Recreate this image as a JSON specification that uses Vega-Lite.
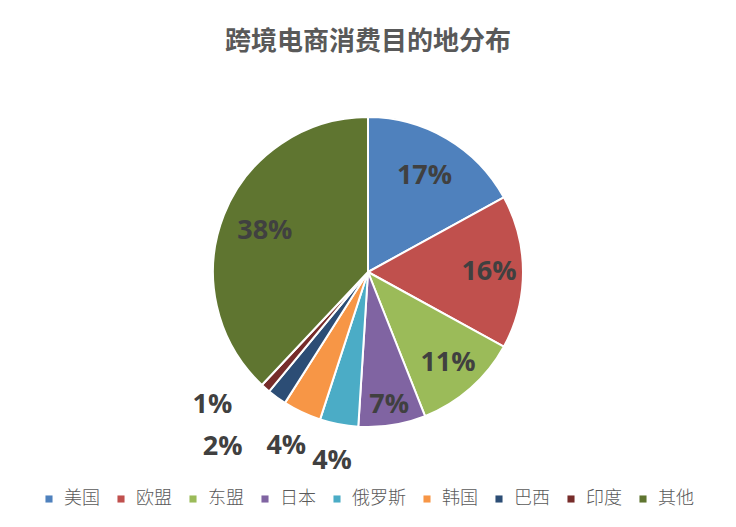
{
  "$schema": "https://vega.github.io/schema/vega-lite/v6.json",
  "autosize": "none",
  "width": 736,
  "height": 424,
  "padding": {"top": 60, "left": 0, "right": 0, "bottom": 43},
  "background": "white",
  "title": {
    "text": "跨境电商消费目的地分布",
    "fontSize": 26,
    "fontWeight": "bold",
    "font": "Noto Sans CJK SC",
    "color": "#595959",
    "anchor": "middle",
    "frame": "group",
    "baseline": "bottom",
    "offset": 4,
    "dy": 31
  },
  "config": {"view": {"stroke": null}},
  "data": {
    "values": [
      {"name": "美国", "value": 17, "order": 1, "label": "17%"},
      {"name": "欧盟", "value": 16, "order": 2, "label": "16%"},
      {"name": "东盟", "value": 11, "order": 3, "label": "11%"},
      {"name": "日本", "value": 7, "order": 4, "label": "7%"},
      {"name": "俄罗斯", "value": 4, "order": 5, "label": "4%"},
      {"name": "韩国", "value": 4, "order": 6, "label": "4%"},
      {"name": "巴西", "value": 2, "order": 7, "label": "2%"},
      {"name": "印度", "value": 1, "order": 8, "label": "1%"},
      {"name": "其他", "value": 38, "order": 9, "label": "38%"}
    ]
  },
  "encoding": {
    "theta": {"field": "value", "type": "quantitative", "stack": true},
    "order": {"field": "order", "type": "quantitative"}
  },
  "layer": [
    {
      "mark": {"type": "arc", "outerRadius": 155, "stroke": "white", "strokeWidth": 2},
      "encoding": {
        "color": {
          "field": "name",
          "type": "nominal",
          "sort": ["美国", "欧盟", "东盟", "日本", "俄罗斯", "韩国", "巴西", "印度", "其他"],
          "scale": {
            "domain": ["美国", "欧盟", "东盟", "日本", "俄罗斯", "韩国", "巴西", "印度", "其他"],
            "range": ["#4F81BD", "#C0504D", "#9BBB59", "#8064A2", "#4BACC6", "#F79646", "#2C4D75", "#772C2A", "#5F7530"]
          },
          "legend": {
            "title": null,
            "orient": "none",
            "legendX": 40,
            "legendY": 430,
            "direction": "horizontal",
            "columns": 9,
            "symbolType": "square",
            "symbolSize": 50,
            "symbolStrokeWidth": 0,
            "labelFontSize": 18,
            "labelFont": "Noto Sans CJK SC",
            "labelFontWeight": 300,
            "labelColor": "#595959",
            "labelOffset": 6,
            "columnPadding": 12
          }
        }
      }
    },
    {
      "mark": {"type": "text", "radius": 111, "fontSize": 27, "fontWeight": "bold", "font": "Open Sans", "color": "#404040"},
      "encoding": {
        "text": {"condition": {"test": "datum.value == 17 || datum.value == 38", "field": "label"}, "value": ""}
      }
    },
    {
      "mark": {"type": "text", "radius": 121, "fontSize": 27, "fontWeight": "bold", "font": "Open Sans", "color": "#404040"},
      "encoding": {
        "text": {"condition": {"test": "datum.value == 16 || datum.value == 11", "field": "label"}, "value": ""}
      }
    },
    {
      "mark": {"type": "text", "radius": 135, "fontSize": 27, "fontWeight": "bold", "font": "Open Sans", "color": "#404040"},
      "encoding": {
        "text": {"condition": {"test": "datum.value == 7", "field": "label"}, "value": ""}
      }
    },
    {
      "mark": {"type": "text", "radius": 192, "fontSize": 27, "fontWeight": "bold", "font": "Open Sans", "color": "#404040"},
      "encoding": {
        "text": {"condition": {"test": "datum.value == 4", "field": "label"}, "value": ""}
      }
    },
    {
      "mark": {"type": "text", "radius": 227, "dx": -12, "dy": -9, "fontSize": 27, "fontWeight": "bold", "font": "Open Sans", "color": "#404040"},
      "encoding": {
        "text": {"condition": {"test": "datum.value == 2", "field": "label"}, "value": ""}
      }
    },
    {
      "mark": {"type": "text", "radius": 205, "dx": -20, "dy": -21, "fontSize": 27, "fontWeight": "bold", "font": "Open Sans", "color": "#404040"},
      "encoding": {
        "text": {"condition": {"test": "datum.value == 1", "field": "label"}, "value": ""}
      }
    }
  ]
}
